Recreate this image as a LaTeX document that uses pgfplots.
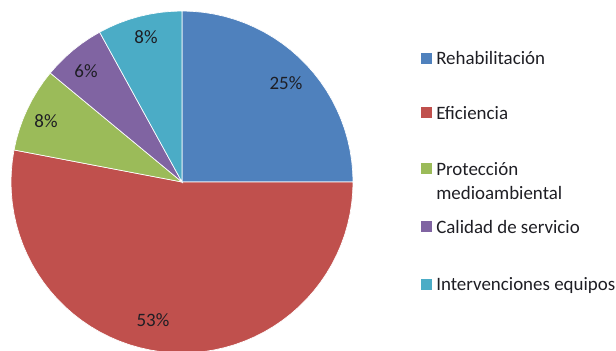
\documentclass[border=0pt]{standalone}
\usepackage{pgfplots}
\pgfplotsset{compat=1.18}
\usepgfplotslibrary{polar}
\usepackage{fontspec}
\setmainfont{Carlito}
\definecolor{cblue}{HTML}{4F81BD}
\definecolor{cred}{HTML}{C0504D}
\definecolor{cgreen}{HTML}{9BBB59}
\definecolor{cpurple}{HTML}{8064A2}
\definecolor{caqua}{HTML}{4BACC6}
\definecolor{ctext}{HTML}{1E1E24}
\begin{document}
\begin{tikzpicture}
\useasboundingbox (0,0) rectangle (462pt,-262.5pt);
\begin{polaraxis}[
  at={(136.5pt,-136.5pt)}, anchor=origin,
  scale only axis, width=256.5pt, height=256.5pt,
  ymin=0, ymax=1, hide axis, clip=false,
  every axis plot/.append style={draw=white, line width=0.5pt},
]
% Rehabilitacion 25%
\addplot[fill=cblue] coordinates {(0,0) (90,1) (86.4,1) (82.8,1) (79.2,1) (75.6,1) (72,1) (68.4,1) (64.8,1) (61.2,1) (57.6,1) (54,1) (50.4,1) (46.8,1) (43.2,1) (39.6,1) (36,1) (32.4,1) (28.8,1) (25.2,1) (21.6,1) (18,1) (14.4,1) (10.8,1) (7.2,1) (3.6,1) (0,1) (0,0)} -- cycle;
% Eficiencia 53%
\addplot[fill=cred] coordinates {(0,0) (0,1) (-3.6,1) (-7.2,1) (-10.8,1) (-14.4,1) (-18,1) (-21.6,1) (-25.2,1) (-28.8,1) (-32.4,1) (-36,1) (-39.6,1) (-43.2,1) (-46.8,1) (-50.4,1) (-54,1) (-57.6,1) (-61.2,1) (-64.8,1) (-68.4,1) (-72,1) (-75.6,1) (-79.2,1) (-82.8,1) (-86.4,1) (-90,1) (-93.6,1) (-97.2,1) (-100.8,1) (-104.4,1) (-108,1) (-111.6,1) (-115.2,1) (-118.8,1) (-122.4,1) (-126,1) (-129.6,1) (-133.2,1) (-136.8,1) (-140.4,1) (-144,1) (-147.6,1) (-151.2,1) (-154.8,1) (-158.4,1) (-162,1) (-165.6,1) (-169.2,1) (-172.8,1) (-176.4,1) (-180,1) (-183.6,1) (-187.2,1) (-190.8,1) (0,0)} -- cycle;
% Proteccion medioambiental 8%
\addplot[fill=cgreen] coordinates {(0,0) (-190.8,1) (-194.4,1) (-198,1) (-201.6,1) (-205.2,1) (-208.8,1) (-212.4,1) (-216,1) (-219.6,1) (0,0)} -- cycle;
% Calidad de servicio 6%
\addplot[fill=cpurple] coordinates {(0,0) (-219.6,1) (-223.2,1) (-226.8,1) (-230.4,1) (-234,1) (-237.6,1) (-241.2,1) (0,0)} -- cycle;
% Intervenciones equipos 8%
\addplot[fill=caqua] coordinates {(0,0) (-241.2,1) (-244.8,1) (-248.4,1) (-252,1) (-255.6,1) (-259.2,1) (-262.8,1) (-266.4,1) (-270,1) (0,0)} -- cycle;
\end{polaraxis}
\begin{scope}[every node/.style={font=\fontsize{14.2}{17}\selectfont, text=ctext, inner sep=0pt}]
\node at (214.5pt,-62.25pt) {25\%};
\node at (114.75pt,-240pt) {53\%};
\node at (34.5pt,-90.75pt) {8\%};
\node at (64.5pt,-53.25pt) {6\%};
\node at (109.5pt,-27.75pt) {8\%};
\end{scope}
\begin{scope}[every node/.style={font=\fontsize{14.2}{17}\selectfont, text=ctext, inner sep=0pt, anchor=base west}]
\fill[cblue]   (315.4pt,-39.4pt) rectangle ++(8.25pt,-8.25pt);
\fill[cred]    (315.4pt,-80.6pt) rectangle ++(8.25pt,-8.25pt);
\fill[cgreen]  (315.4pt,-122.6pt) rectangle ++(8.25pt,-8.25pt);
\fill[cpurple] (315.4pt,-166.1pt) rectangle ++(8.25pt,-8.25pt);
\fill[caqua]   (315.4pt,-208.9pt) rectangle ++(8.25pt,-8.25pt);
\node at (327pt,-48pt) {Rehabilitación};
\node at (327pt,-89.25pt) {Eficiencia};
\node at (327pt,-131.25pt) {Protección};
\node at (327pt,-149.25pt) {medioambiental};
\node at (327pt,-174.75pt) {Calidad de servicio};
\node at (327pt,-217.5pt) {Intervenciones equipos};
\end{scope}
\end{tikzpicture}
\end{document}
